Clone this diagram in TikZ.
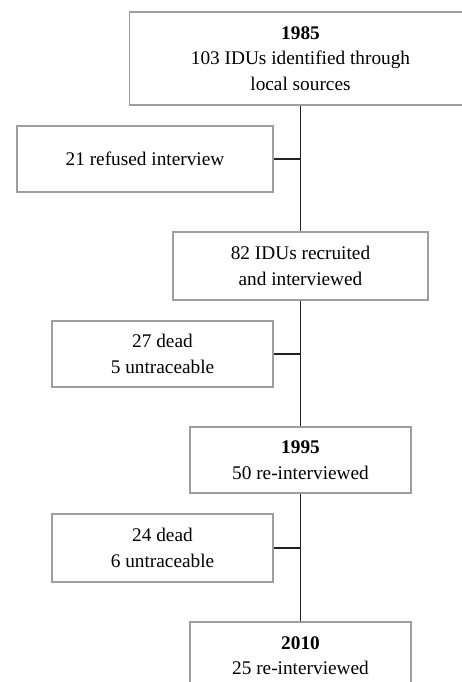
\documentclass[tikz,border=0pt]{standalone}
\usepackage{fontspec}
\setmainfont{Liberation Serif}
\definecolor{boxgray}{gray}{0.62}
\definecolor{linegray}{gray}{0.13}
\tikzset{
  stagebox/.style={draw=boxgray,line width=1.5pt,fill=white,inner sep=0pt,align=center,
    font=\fontsize{19.3pt}{25.5pt}\selectfont},
  link/.style={draw=linegray,line width=1.1pt},
  trunk/.style={draw=linegray,line width=1.8pt}
}
\begin{document}
\begin{tikzpicture}[x=1pt,y=-1pt]
\useasboundingbox (0,0) rectangle (462,682);
\clip (0,0) rectangle (462,682);
\node[stagebox,minimum width=342pt,minimum height=93pt] (y1985) at (300.5,58.5)
  {\textbf{1985}\\103 IDUs identified through\\local sources};
\node[stagebox,minimum width=256pt,minimum height=66pt] (refused) at (145,159)
  {21 refused interview};
\node[stagebox,minimum width=255pt,minimum height=68pt] (recruit) at (300.5,266)
  {82 IDUs recruited\\and interviewed};
\node[stagebox,minimum width=221pt,minimum height=66pt] (lossA) at (162.5,354)
  {27 dead\\5 untraceable};
\node[stagebox,minimum width=221pt,minimum height=66pt] (y1995) at (300.5,460)
  {\textbf{1995}\\50 re-interviewed};
\node[stagebox,minimum width=221pt,minimum height=68pt] (lossB) at (162.5,548)
  {24 dead\\6 untraceable};
\node[stagebox,minimum width=221pt,minimum height=67pt] (y2010) at (300.5,655.5)
  {\textbf{2010}\\25 re-interviewed};
% trunk with side branches
\draw[trunk] (y1985.south) -- (refused.east -| y1985.south);
\draw[link] (refused.east -| y1985.south) -- (recruit.north);
\draw[link] (refused.east) -- (refused.east -| y1985.south);
\draw[trunk] (recruit.south) -- (lossA.east -| recruit.south);
\draw[link] (lossA.east -| recruit.south) -- (y1995.north);
\draw[link] (lossA.east) -- (lossA.east -| recruit.south);
\draw[trunk] (y1995.south) -- (lossB.east -| y1995.south);
\draw[link] (lossB.east -| y1995.south) -- (y2010.north);
\draw[link] (lossB.east) -- (lossB.east -| y1995.south);
\end{tikzpicture}
\end{document}
